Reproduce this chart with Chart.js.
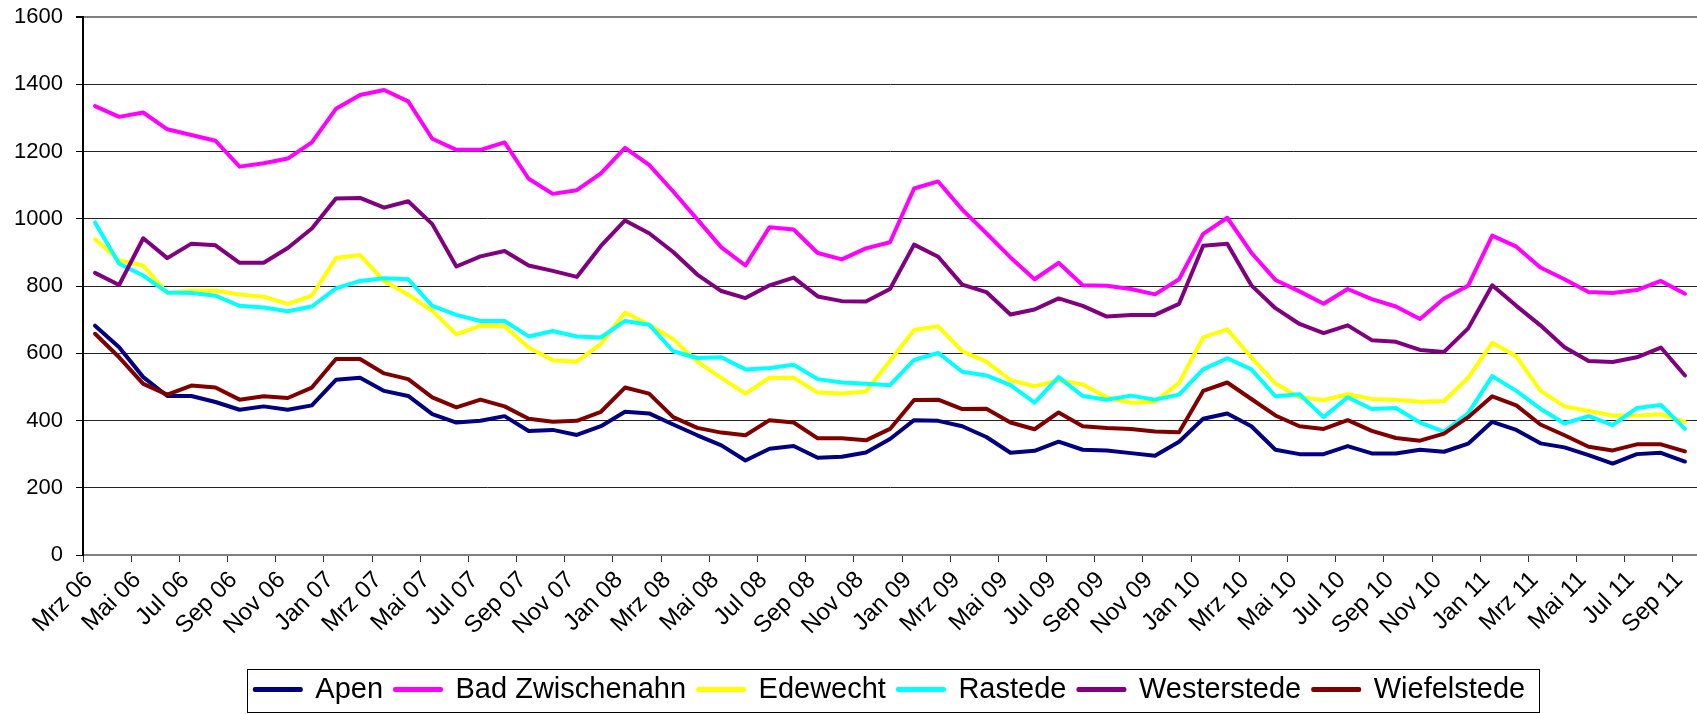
<!DOCTYPE html>
<html>
<head>
<meta charset="utf-8">
<script src="https://cdn.jsdelivr.net/npm/chart.js@4/dist/chart.umd.min.js"></script>
<style>
  html, body { margin: 0; padding: 0; background: #fff; }
  #chart { display: block; }
</style>
</head>
<body>
<canvas id="chart" width="1697" height="714"></canvas>
<script>
// Monate Mrz 06 .. Sep 11
var categories = [
  'Mrz 06','Apr 06','Mai 06','Jun 06','Jul 06','Aug 06','Sep 06','Okt 06','Nov 06','Dez 06',
  'Jan 07','Feb 07','Mrz 07','Apr 07','Mai 07','Jun 07','Jul 07','Aug 07','Sep 07','Okt 07','Nov 07','Dez 07',
  'Jan 08','Feb 08','Mrz 08','Apr 08','Mai 08','Jun 08','Jul 08','Aug 08','Sep 08','Okt 08','Nov 08','Dez 08',
  'Jan 09','Feb 09','Mrz 09','Apr 09','Mai 09','Jun 09','Jul 09','Aug 09','Sep 09','Okt 09','Nov 09','Dez 09',
  'Jan 10','Feb 10','Mrz 10','Apr 10','Mai 10','Jun 10','Jul 10','Aug 10','Sep 10','Okt 10','Nov 10','Dez 10',
  'Jan 11','Feb 11','Mrz 11','Apr 11','Mai 11','Jun 11','Jul 11','Aug 11','Sep 11'
];

var apen = [682, 618, 529, 473, 473, 455, 432, 442, 432, 445, 521, 527, 488, 473, 419, 394, 399, 413, 369, 372,
  357, 383, 426, 421, 388, 356, 326, 281, 316, 324, 289, 292, 305, 345, 401, 399, 383, 351, 304, 310,
  337, 313, 311, 303, 295, 337, 405, 421, 383, 313, 300, 300, 324, 302, 302, 313, 307, 331, 396, 372,
  332, 320, 297, 272, 300, 304, 278];
var badZwischenahn = [1335, 1303, 1316, 1266, 1249, 1232, 1155, 1165, 1179, 1227, 1327, 1368, 1383, 1349, 1238, 1205, 1205, 1227, 1119, 1074,
  1085, 1135, 1211, 1160, 1081, 998, 915, 861, 975, 968, 898, 879, 912, 930, 1090, 1111, 1027, 957, 885, 820,
  869, 802, 801, 791, 775, 820, 955, 1003, 899, 818, 784, 747, 791, 761, 739, 702, 763, 801, 950, 917,
  855, 820, 782, 779, 788, 815, 777];
var edewecht = [939, 876, 861, 779, 786, 786, 775, 768, 747, 771, 883, 892, 815, 774, 726, 656, 682, 680, 617, 579,
  575, 628, 721, 685, 642, 575, 527, 480, 527, 527, 483, 480, 486, 577, 669, 680, 606, 575, 520, 502,
  520, 507, 469, 453, 456, 512, 647, 671, 588, 510, 469, 461, 478, 464, 462, 456, 458, 527, 631, 591,
  489, 442, 428, 415, 415, 418, 396];
var rastede = [989, 866, 831, 781, 779, 771, 741, 736, 725, 739, 793, 815, 823, 820, 741, 714, 696, 696, 650, 666,
  650, 647, 696, 685, 606, 586, 588, 552, 556, 566, 523, 513, 509, 505, 580, 601, 545, 534, 505, 453,
  529, 473, 462, 474, 462, 477, 552, 585, 552, 472, 478, 410, 469, 434, 437, 394, 367, 421, 532, 488,
  435, 391, 413, 386, 437, 446, 375];
var westerstede = [839, 803, 942, 883, 926, 921, 869, 869, 913, 971, 1060, 1062, 1033, 1052, 984, 858, 888, 904, 861, 845,
  827, 919, 995, 957, 901, 834, 785, 764, 802, 825, 769, 755, 754, 791, 923, 887, 804, 782, 715, 730,
  763, 741, 709, 714, 714, 747, 920, 926, 802, 734, 687, 660, 683, 639, 634, 610, 604, 674, 802, 741,
  683, 618, 577, 574, 588, 617, 534];
var wiefelstede = [658, 588, 509, 477, 504, 498, 462, 472, 467, 498, 583, 583, 540, 523, 469, 439, 462, 442, 405, 396,
  399, 426, 498, 480, 410, 378, 364, 356, 401, 394, 347, 347, 341, 375, 461, 462, 434, 435, 394, 374,
  424, 383, 378, 375, 367, 365, 488, 513, 464, 415, 383, 375, 401, 369, 348, 340, 361, 410, 472, 445,
  388, 356, 322, 311, 329, 329, 308];

var seriesNames = ['Apen', 'Bad Zwischenahn', 'Edewecht', 'Rastede', 'Westerstede', 'Wiefelstede'];
var seriesValues = [apen, badZwischenahn, edewecht, rastede, westerstede, wiefelstede];
var seriesColors = ['#000080', '#ff00ff', '#ffff00', '#00ffff', '#800080', '#800000'];

var FONT = "'Liberation Sans', Arial, sans-serif";

// Rahmen um die Legende (wie in Excel)
var legendFrame = {
  id: 'legendFrame',
  afterDraw: function(chart) {
    var boxes = chart.legend && chart.legend.legendHitBoxes;
    if (!boxes || !boxes.length) return;
    var first = boxes[0], last = boxes[boxes.length - 1];
    var cy = first.top + first.height / 2;
    var ctx = chart.ctx;
    ctx.save();
    ctx.strokeStyle = '#000';
    ctx.lineWidth = 1;
    ctx.strokeRect(Math.round(first.left - 8) + 0.5, Math.round(cy - 21) + 0.5,
      Math.round(last.left + last.width - first.left + 22), 43);
    ctx.restore();
  }
};

var datasets = seriesNames.map(function(name, i) {
  return {
    label: name,
    data: seriesValues[i],
    borderColor: seriesColors[i],
    backgroundColor: seriesColors[i],
    borderWidth: 4,
    borderCapStyle: 'round',
    borderJoinStyle: 'round',
    pointRadius: 0,
    tension: 0,
    fill: false,
    order: seriesNames.length - i // last series on top, like Excel
  };
});

new Chart(document.getElementById('chart'), {
  type: 'line',
  data: { labels: categories, datasets: datasets },
  plugins: [legendFrame],
  options: {
    responsive: false,
    animation: false,
    layout: { padding: { top: 17, right: 0, bottom: 0, left: 0 } },
    plugins: {
      tooltip: { enabled: false },
      legend: {
        position: 'bottom',
        fullSize: false,
        labels: {
          color: '#000',
          font: { family: FONT, size: 29 },
          boxWidth: 46,
          boxHeight: 1,
          padding: 12,
          sort: function(a, b) { return a.datasetIndex - b.datasetIndex; }
        }
      }
    },
    scales: {
      x: {
        type: 'category',
        offset: true,
        afterFit: function(scale) {
          scale.height = 108;
          scale.paddingRight = 0;
          scale.paddingLeft = 0;
        },
        grid: {
          offset: true,
          drawOnChartArea: false,
          drawTicks: true,
          tickLength: 7,
          tickColor: function(ctx) { return ctx.index % 2 === 0 ? '#333' : 'rgba(0,0,0,0)'; }
        },
        border: { color: '#808080', width: 2 },
        ticks: {
          autoSkip: false,
          maxRotation: 45,
          minRotation: 45,
          padding: 4,
          labelOffset: -6,
          color: '#000',
          font: { family: FONT, size: 24 },
          callback: function(value, index) { return index % 2 === 0 ? this.getLabelForValue(value) : ''; }
        }
      },
      y: {
        min: 0,
        max: 1600,
        afterFit: function(scale) {
          scale.width = 83;
          scale.paddingTop = 0;
          scale.paddingBottom = 0;
        },
        grid: {
          color: function(ctx) { return ctx.tick && ctx.tick.value === 1600 ? '#808080' : '#222'; },
          lineWidth: function(ctx) { return ctx.tick && ctx.tick.value === 1600 ? 2 : 1; },
          tickLength: 7,
          tickColor: '#000'
        },
        border: { color: '#000', width: 2 },
        ticks: {
          stepSize: 200,
          padding: 13,
          color: '#000',
          font: { family: FONT, size: 22 },
          callback: function(value) { return String(value); }
        }
      }
    }
  }
});
</script>
</body>
</html>
